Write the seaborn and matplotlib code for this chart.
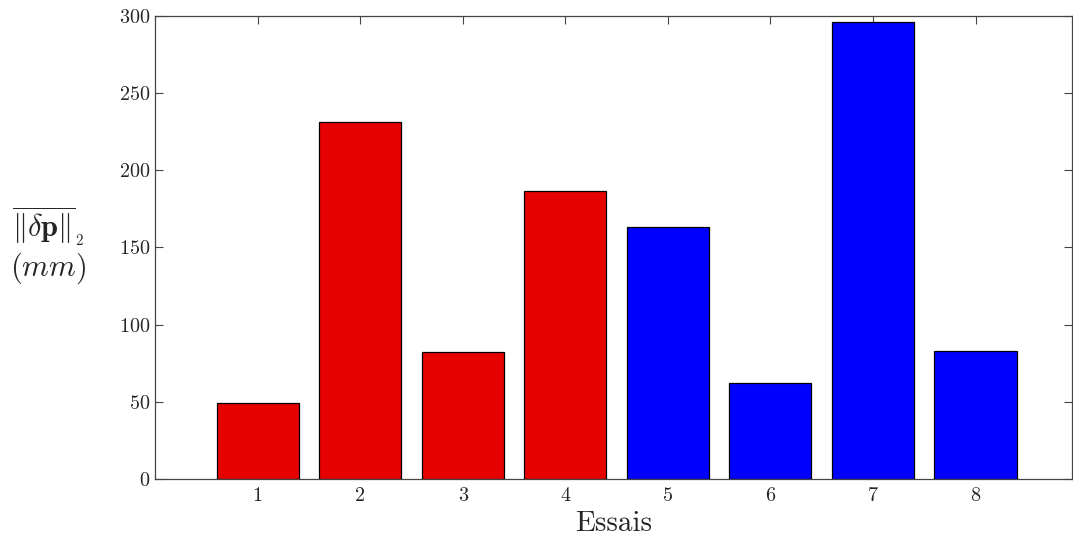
import matplotlib
matplotlib.use("Agg")
import matplotlib.pyplot as plt
import seaborn as sns
import pandas as pd

essais = ["1", "2", "3", "4", "5", "6", "7", "8"]
valeurs = [49.5, 231.5, 82.5, 186.5, 163.5, 62, 296, 83]
groupe = ["A", "A", "A", "A", "B", "B", "B", "B"]
couleurs = {"A": "#e60000", "B": "#0000ff"}

sns.set_style("ticks")
plt.rcParams["font.family"] = "serif"
plt.rcParams["font.serif"] = ["cmr10", "DejaVu Serif"]
plt.rcParams["mathtext.fontset"] = "cm"
plt.rcParams["axes.formatter.use_mathtext"] = True

df = pd.DataFrame({"essai": essais, "val": valeurs, "groupe": groupe})

fig = plt.figure(figsize=(10.73, 5.44), dpi=100)
ax = fig.add_axes([0.1445, 0.1195, 0.8545, 0.8511])
sns.barplot(data=df, x="essai", y="val", hue="groupe", palette=couleurs,
            width=0.8, dodge=False, edgecolor="black", linewidth=0.9,
            saturation=1, legend=False, ax=ax)

ax.set_xlim(-1, 7.94)
ax.set_ylim(0, 300)
ax.set_yticks([0, 50, 100, 150, 200, 250, 300])
ax.tick_params(direction="in", top=True, right=True, length=6,
               width=0.8, color="#444444", labelsize=14.5)
ax.tick_params(axis="x", pad=6)
for s in ax.spines.values():
    s.set_visible(True)
    s.set_color("#444444")
    s.set_linewidth(0.9)

ax.set_xlabel("Essais", fontsize=21, labelpad=4)
ax.set_ylabel(r"$\overline{\|\delta\mathbf{p}\|}_{_2}$" + "\n" + r"$(mm)$",
              fontsize=22, rotation=0, labelpad=0, linespacing=1.1)
ax.yaxis.set_label_coords(-0.117, 0.505)
ax.yaxis.label.set_verticalalignment("center")

fig.savefig("out.png", dpi=100)
